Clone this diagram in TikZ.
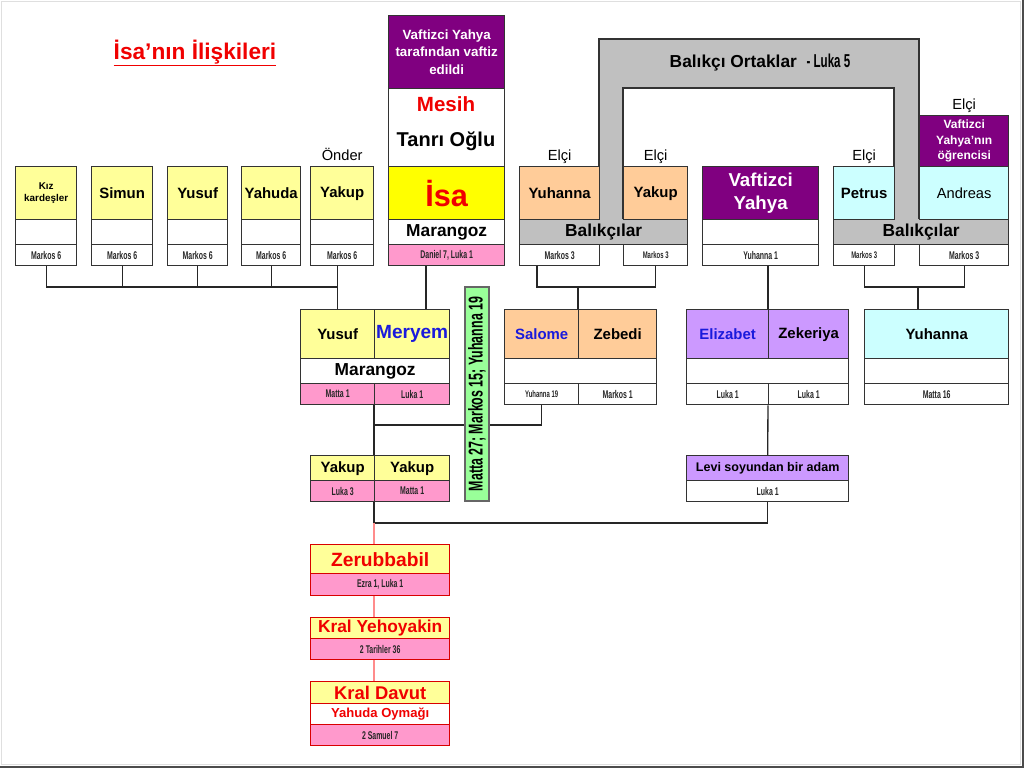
\documentclass[tikz,border=0pt]{standalone}
\usepackage{fontspec}
\setmainfont{Liberation Sans}
\newfontfamily\refont[FakeStretch=0.62]{Liberation Sans}
\definecolor{ylight}{HTML}{FFFF99}
\definecolor{isay}{HTML}{FFFF00}
\definecolor{purp}{HTML}{800080}
\definecolor{peach}{HTML}{FFCC99}
\definecolor{cyanl}{HTML}{CCFFFF}
\definecolor{lav}{HTML}{CC99FF}
\definecolor{pinkc}{HTML}{FF99CC}
\definecolor{grayc}{HTML}{C0C0C0}
\definecolor{greenc}{HTML}{99FF99}
\definecolor{redt}{HTML}{F00000}
\definecolor{bluet}{HTML}{1A1ADC}
\begin{document}
\begin{tikzpicture}[x=0.75pt,y=-0.75pt,
	cell/.style={draw=black!80,line width=1pt,inner sep=0pt,anchor=north west,align=center,font=\bfseries\fontsize{11.2}{13}\selectfont},
	wh/.style 2 args={minimum width=#1*0.75pt,minimum height=#2*0.75pt},
	refcell/.style={cell,fill=white,text=black!85,font=\refont\bfseries\fontsize{8.4}{10}\selectfont},
	pinkref/.style={refcell,fill=pinkc},
	redcell/.style={cell,draw=red!85!black},
	conn/.style={black!85,line width=1pt},
	redconn/.style={red!45,line width=1pt},
	role/.style={above=4pt,inner sep=0pt,text depth=0pt,font=\fontsize{11}{13}\selectfont}]
	\useasboundingbox (0,0) rectangle (1024,768);
	%çerçeve
	\draw[gray!25] (1.5,1.5) rectangle (1020,764);
	\draw[black!70,line width=1.5pt] (1022.5,0)--(1022.5,768) (0,766.5)--(1024,766.5);
	\node[font=\bfseries\fontsize{17}{20}\selectfont,text=redt] (title) at (195,53) {\underline{İsa’nın İlişkileri}};
	%kardeşler
	\node[cell,wh={61}{53},fill=ylight,font=\bfseries\fontsize{7.4}{9.5}\selectfont] (kiz) at (15,166) {Kız\\kardeşler};
	\node[cell,wh={61}{25},fill=white] (kiz-b) at (15,219) {};
	\node[refcell,wh={61}{21}] (kiz-r) at (15,244) {Markos 6};
	\foreach \x/\w/\n/\t in {91/61/sim/Simun,167/60/yus/Yusuf,241/59/yah/Yahuda,310/63/yak/Yakup}{
		\node[cell,wh={\w}{53},fill=ylight] (\n) at (\x,166) {\t};
		\node[cell,wh={\w}{25},fill=white] (\n-b) at (\x,219) {};
		\node[refcell,wh={\w}{21}] (\n-r) at (\x,244) {Markos 6};
	}
	\node[role] (onder) at (yak.north) {Önder};
	%İsa
	\node[cell,wh={116}{73},fill=purp,text=white,font=\bfseries\fontsize{10}{12.8}\selectfont] (vaftiz) at (388,15) {Vaftizci Yahya\\tarafından vaftiz\\edildi};
	\node[cell,wh={116}{78},fill=white] (unvan) at (388,88) {};
	\node[font=\bfseries\fontsize{15.4}{18}\selectfont,text=redt] (mesih) at (446,104) {Mesih};
	\node[font=\bfseries\fontsize{15}{18}\selectfont] (tanri) at (446,141) {Tanrı Oğlu};
	\node[cell,wh={116}{53},fill=isay,text=redt,font=\bfseries\fontsize{23}{26}\selectfont] (isa) at (388,166) {İsa};
	\node[cell,wh={116}{25},fill=white,font=\bfseries\fontsize{13}{15}\selectfont] (isa-m) at (388,219) {Marangoz};
	\node[pinkref,wh={116}{21}] (isa-r) at (388,244) {Daniel 7, Luka 1};
	%balıkçılar sol
	\node[cell,wh={168}{25},fill=grayc,font=\bfseries\fontsize{13}{15}\selectfont] (balik1) at (519,219) {Balıkçılar};
	\node[cell,wh={175}{25},fill=grayc,font=\bfseries\fontsize{13}{15}\selectfont] (balik2) at (833,219) {Balıkçılar};
	\fill[grayc] (599,220)--(599,39)--(919,39)--(919,220)--(894,220)--(894,88)--(623,88)--(623,220)--cycle;
	\draw[black!80,line width=1pt] (599,219)--(599,39)--(919,39)--(919,219) (623,219)--(623,88)--(894,88)--(894,219);
	\node[font=\bfseries\fontsize{13}{15}\selectfont] (ortak) at (760,63) {Balıkçı Ortaklar\ \ {\refont\fontsize{14}{16}\selectfont - Luka 5}};
	\node[cell,wh={80}{53},fill=peach] (yuh) at (519,166) {Yuhanna};
	\node[cell,wh={64}{53},fill=peach] (yakb) at (623,166) {Yakup};
	\node[refcell,wh={80}{21}] (yuh-r) at (519,244) {Markos 3};
	\node[refcell,wh={64}{21},font=\refont\bfseries\fontsize{7.2}{9}\selectfont] (yakb-r) at (623,244) {Markos 3};
	\node[role] (elci1) at (yuh.north) {Elçi};
	\node[role] (elci2) at (yakb.north) {Elçi};
	%Vaftizci Yahya
	\node[cell,wh={116}{53},fill=purp,text=white,font=\bfseries\fontsize{14}{17.5}\selectfont] (yahya) at (702,166) {Vaftizci\\Yahya};
	\node[cell,wh={116}{25},fill=white] (yahya-b) at (702,219) {};
	\node[refcell,wh={116}{21}] (yahya-r) at (702,244) {Yuhanna 1};
	%balıkçılar sağ
	\node[cell,wh={61}{53},fill=cyanl] (petrus) at (833,166) {Petrus};
	\node[cell,wh={89}{51},fill=purp,text=white,font=\bfseries\fontsize{9}{11.6}\selectfont] (ogrenci) at (919,115) {Vaftizci\\Yahya’nın\\öğrencisi};
	\node[cell,wh={89}{53},fill=cyanl,font=\fontsize{11}{13}\selectfont] (andreas) at (919,166) {Andreas};
	\node[refcell,wh={61}{21},font=\refont\bfseries\fontsize{7.2}{9}\selectfont] (petrus-r) at (833,244) {Markos 3};
	\node[refcell,wh={89}{21}] (andreas-r) at (919,244) {Markos 3};
	\node[role] (elci3) at (petrus.north) {Elçi};
	\node[role] (elci4) at (ogrenci.north) {Elçi};
	%Yusuf - Meryem
	\node[cell,wh={74}{49},fill=ylight] (yusuf) at (300,309) {Yusuf};
	\node[cell,wh={75}{49},fill=ylight,text=bluet,font=\bfseries\fontsize{14.3}{17}\selectfont] (meryem) at (374,309) {Meryem};
	\node[cell,wh={149}{25},fill=white,font=\bfseries\fontsize{13}{15}\selectfont] (meryem-m) at (300,358) {Marangoz};
	\node[pinkref,wh={74}{21}] (yusuf-r) at (300,383) {Matta 1};
	\node[pinkref,wh={75}{21}] (meryem-r) at (374,383) {Luka 1};
	%Salome - Zebedi
	\node[cell,wh={74}{49},fill=peach,text=bluet] (salome) at (504,309) {Salome};
	\node[cell,wh={78}{49},fill=peach] (zebedi) at (578,309) {Zebedi};
	\node[cell,wh={152}{25},fill=white] (salome-b) at (504,358) {};
	\node[refcell,wh={74}{21},font=\refont\bfseries\fontsize{7.2}{9}\selectfont] (salome-r) at (504,383) {Yuhanna 19};
	\node[refcell,wh={78}{21}] (zebedi-r) at (578,383) {Markos 1};
	%Elizabet - Zekeriya
	\node[cell,wh={82}{49},fill=lav,text=bluet] (eliz) at (686,309) {Elizabet};
	\node[cell,wh={80}{49},fill=lav] (zek) at (768,309) {Zekeriya};
	\node[cell,wh={162}{25},fill=white] (eliz-b) at (686,358) {};
	\node[refcell,wh={82}{21}] (eliz-r) at (686,383) {Luka 1};
	\node[refcell,wh={80}{21}] (zek-r) at (768,383) {Luka 1};
	%Yuhanna
	\node[cell,wh={144}{49},fill=cyanl] (yuhc) at (864,309) {Yuhanna};
	\node[cell,wh={144}{25},fill=white] (yuhc-b) at (864,358) {};
	\node[refcell,wh={144}{21}] (yuhc-r) at (864,383) {Matta 16};
	%Yakup - Yakup, Levi
	\node[cell,wh={64}{25},fill=ylight] (yakup1) at (310,455) {Yakup};
	\node[cell,wh={75}{25},fill=ylight] (yakup2) at (374,455) {Yakup};
	\node[pinkref,wh={64}{21}] (yakup1-r) at (310,480) {Luka 3};
	\node[pinkref,wh={75}{21}] (yakup2-r) at (374,480) {Matta 1};
	\node[cell,wh={162}{25},fill=lav,font=\bfseries\fontsize{9.4}{11}\selectfont] (levi) at (686,455) {Levi soyundan bir adam};
	\node[refcell,wh={162}{21}] (levi-r) at (686,480) {Luka 1};
	%krallar
	\node[redcell,wh={139}{29},fill=ylight,text=redt,font=\bfseries\fontsize{14.4}{17}\selectfont] (zer) at (310,544) {Zerubbabil};
	\node[pinkref,draw=red!85!black,wh={139}{22}] (zer-r) at (310,573) {Ezra 1, Luka 1};
	\node[redcell,wh={139}{21},fill=ylight,text=redt,font=\bfseries\fontsize{13}{15}\selectfont] (yeho) at (310,617) {Kral Yehoyakin};
	\node[pinkref,draw=red!85!black,wh={139}{21}] (yeho-r) at (310,638) {2 Tarihler 36};
	\node[redcell,wh={139}{22},fill=ylight,text=redt,font=\bfseries\fontsize{13.8}{16}\selectfont] (davut) at (310,681) {Kral Davut};
	\node[redcell,wh={139}{21},fill=white,text=redt,font=\bfseries\fontsize{9.8}{12}\selectfont] (davut-o) at (310,703) {Yahuda Oymağı};
	\node[pinkref,draw=red!85!black,wh={139}{21}] (davut-r) at (310,724) {2 Samuel 7};
	%bağlantılar
	\coordinate (bar) at (0,287);
	\coordinate (isadrop) at (426,0);
	\coordinate (zdrop) at (537,0);
	\coordinate (adrop) at (918,0);
	\coordinate (midbar) at (0,425);
	\coordinate (lowbar) at (0,523);
	\foreach \n in {kiz,sim,yus,yah} \draw[conn] (\n-r.south)--(\n-r.south |- bar);
	\draw[conn] (kiz-r.south |- bar)--(yusuf.north |- bar) (yusuf.north |- yak-r.south)--(yusuf.north);
	\draw[conn] (isa-r.south -| isadrop)--(meryem.north -| isadrop);
	\draw[conn] (yuh-r.south -| zdrop)--(bar -| zdrop)--(bar -| yakb-r.south)--(yakb-r.south);
	\draw[conn] (zebedi.north west |- bar)--(zebedi.north west);
	\draw[conn] (petrus-r.south)--(petrus-r.south |- bar)--(andreas-r.south |- bar)--(andreas-r.south);
	\draw[conn] (bar -| adrop)--(yuhc.north -| adrop);
	\draw[conn] (yahya-r.south -| zek.north west)--(zek.north west);
	\draw[conn] (zek-r.south west)--(levi.north);
	\draw[conn] (meryem-r.south west)--(yakup2.north west);
	\draw[conn] (meryem-r.south west |- midbar)--(midbar -| salome-r.south)--(salome-r.south);
	\draw[conn] (levi-r.south)--(levi-r.south |- lowbar)--(lowbar -| yakup2-r.south west)--(yakup2-r.south west);
	\draw[redconn] (lowbar -| yakup2-r.south west)--(zer.north -| yakup2-r.south west);
	\draw[redconn] (zer-r.south -| yakup2-r.south west)--(yeho.north -| yakup2-r.south west);
	\draw[redconn] (yeho-r.south -| yakup2-r.south west)--(davut.north -| yakup2-r.south west);
	\node[draw=black!60,line width=0.8pt,fill=greenc,rotate=90,minimum width=214*0.75pt,minimum height=24*0.75pt,inner sep=0pt,font=\refont\bfseries\fontsize{15}{17}\selectfont] (matta) at (477,394) {Matta 27; Markos 15; Yuhanna 19};
\end{tikzpicture}
\end{document}
